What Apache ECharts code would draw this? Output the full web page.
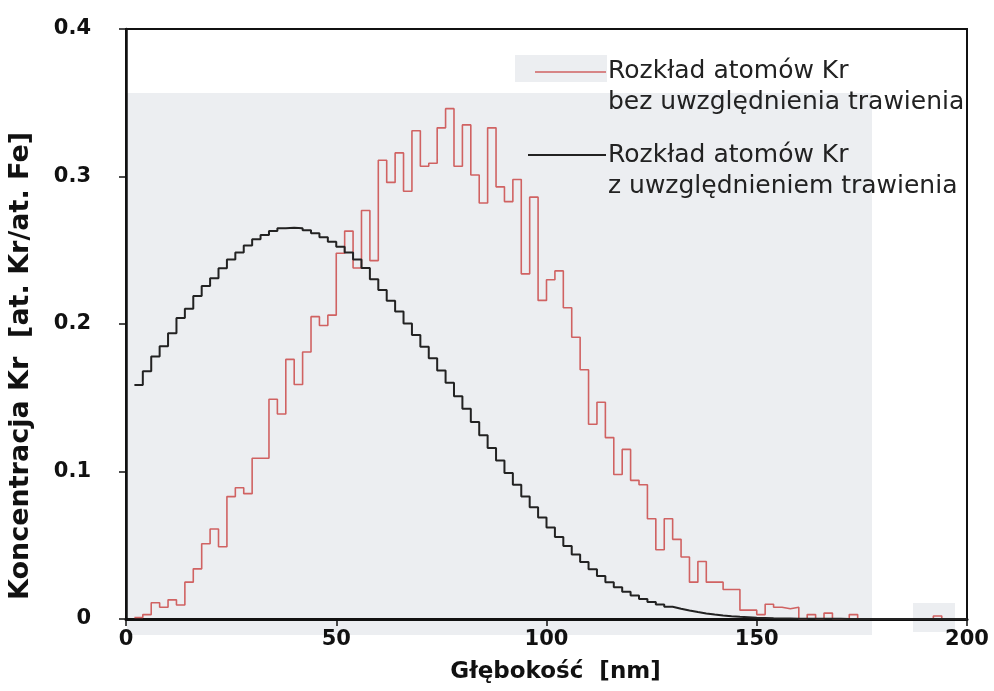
<!DOCTYPE html>
<html><head><meta charset="utf-8">
<script src="https://cdn.jsdelivr.net/npm/echarts@6/dist/echarts.min.js"></script>
<style>html,body{margin:0;padding:0;background:#fff}#c{width:994px;height:691px}</style>
</head><body><div id="c"></div>
<script>
// Bin edges (nm): each value holds from this depth to the next one
const depth = [2,4,6,8,10,12,14,16,18,20,22,24,26,28,30,32,34,36,38,40,
  42,44,46,48,50,52,54,56,58,60,62,64,66,68,70,72,74,76,78,80,
  82,84,86,88,90,92,94,96,98,100,102,104,106,108,110,112,114,116,118,120,
  122,124,126,128,130,132,134,136,138,140,142,144,146,148,150,152,154,156,158,160,
  162,164,166,168,170,172,174,176,178,180,182,184,186,188,190,192,194,196,198,200];

const seriesNames = [
  'Rozkład atomów Kr\nbez uwzględnienia trawienia',
  'Rozkład atomów Kr\nz uwzględnieniem trawienia'
];

// Without etching (red)
const redValues = [0.001,0.003,0.011,0.008,0.013,0.0095,0.025,0.034,0.051,0.061,
  0.049,0.083,0.089,0.085,0.109,0.109,0.149,0.139,0.176,0.159,
  0.181,0.205,0.199,0.206,0.248,0.263,0.238,0.277,0.243,0.311,
  0.296,0.316,0.290,0.331,0.307,0.309,0.333,0.346,0.307,0.335,
  0.301,0.282,0.333,0.293,0.283,0.298,0.234,0.286,0.216,0.230,
  0.236,0.211,0.191,0.169,0.132,0.147,0.123,0.098,0.115,0.094,
  0.091,0.068,0.047,0.068,0.054,0.042,0.025,0.039,0.025,0.025,
  0.020,0.020,0.006,0.006,0.003,0.010,0.008,0.007,0.008,0,
  0.003,0,0.004,0,0,0.003,0,0,0,0,
  0,0,0,0,0,0.002,0,0,0];

// With etching (black)
const blackValues = [0.1586,0.168,0.178,0.185,0.1937,0.204,0.2104,0.219,0.2258,0.231,
  0.2378,0.2438,0.2484,0.2533,0.2574,0.2603,0.263,0.2649,0.2652,0.2649,
  0.2635,0.2615,0.2588,0.2558,0.2524,0.2484,0.2438,0.238,0.2303,0.223,
  0.2158,0.2084,0.2004,0.1925,0.1846,0.1767,0.1684,0.1602,0.151,0.1425,
  0.1335,0.1245,0.116,0.1075,0.099,0.091,0.083,0.0758,0.0688,0.062,
  0.0556,0.0495,0.0438,0.0386,0.0338,0.0292,0.025,0.0215,0.0185,0.016,
  0.0135,0.0115,0.0098,0.0083,0.007,0.0058,0.0047,0.0038,0.003,0.0024,
  0.0019,0.0015,0.0012,0.0009,0.0007,0.0005,0.0004,0.0003,0.0002,0.0002,
  0.0001,0.0001,0.0001,0.0001,0,0,0,0,0,0,
  0,0,0,0,0,0,0,0,0];

const xTickLabels = ['0','50','100','150','200'];
const yTickLabels = ['0','0.1','0.2','0.3','0.4'];

function toSteps(vals){
  return depth.map((d,i)=>[d, vals[Math.min(i, vals.length-1)]]);
}

const FONT = 'DejaVu Sans';
const chart = echarts.init(document.getElementById('c'), null, {renderer:'canvas'});
chart.setOption({
  animation:false,
  backgroundColor:'#ffffff',
  grid:{left:126, right:27, top:29, bottom:72, outerBoundsMode:'none', containLabel:false,
    show:true, borderColor:'#111', borderWidth:2, backgroundColor:'transparent'},
  xAxis:{
    type:'value', min:0, max:200, interval:50,
    name:'Głębokość  [nm]', nameLocation:'middle', nameGap:42,
    nameTextStyle:{fontFamily:FONT, fontWeight:'bold', fontSize:23, color:'#111', padding:[0,0,0,18]},
    axisLine:{show:true, lineStyle:{color:'#111', width:3}},
    axisTick:{show:true, length:7, lineStyle:{color:'#111', width:1.5}},
    axisLabel:{fontFamily:FONT, fontWeight:'bold', fontSize:21, color:'#111', margin:10,
      formatter:(v)=>xTickLabels[Math.round(v/50)]},
    splitLine:{show:false}
  },
  yAxis:{
    type:'value', min:0, max:0.4, interval:0.1,
    name:'Koncentracja Kr  [at. Kr/at. Fe]', nameLocation:'middle', nameGap:92,
    nameTextStyle:{fontFamily:FONT, fontWeight:'bold', fontSize:27, color:'#111', padding:[0,84,0,0]},
    axisLine:{show:true, lineStyle:{color:'#111', width:2.5}},
    axisTick:{show:true, length:7, lineStyle:{color:'#111', width:1.5}},
    axisLabel:{fontFamily:FONT, fontWeight:'bold', fontSize:21, color:'#111', margin:35, padding:[0,0,26,0],
      formatter:(v)=>yTickLabels[Math.round(v*10)]},
    splitLine:{show:false}
  },
  graphic:[
    {type:'rect', z:-10, shape:{x:127, y:93, width:745, height:542}, style:{fill:'#eceef1'}},
    {type:'rect', z:-10, shape:{x:515, y:55, width:92, height:27}, style:{fill:'#eceef1'}},
    {type:'rect', z:-10, shape:{x:913, y:603, width:42, height:29}, style:{fill:'#eceef1'}},
    {type:'line', z:20, shape:{x1:535, y1:72, x2:606, y2:72}, style:{stroke:'#d06262', lineWidth:1.6}},
    {type:'text', z:20, style:{x:608, y:56, text:seriesNames[0], font:'25px "DejaVu Sans"', lineHeight:31, fill:'#222', verticalAlign:'top'}},
    {type:'line', z:20, shape:{x1:528, y1:155, x2:606, y2:155}, style:{stroke:'#222', lineWidth:1.8}},
    {type:'text', z:20, style:{x:608, y:140, text:seriesNames[1], font:'25px "DejaVu Sans"', lineHeight:31, fill:'#222', verticalAlign:'top'}}
  ],
  series:[
    {name:seriesNames[0], type:'line', step:'end', showSymbol:false, data:toSteps(redValues),
      lineStyle:{color:'#d06262', width:1.6}, z:3},
    {name:seriesNames[1], type:'line', step:'end', showSymbol:false, data:toSteps(blackValues),
      lineStyle:{color:'#222', width:2}, z:4}
  ]
});
</script></body></html>
